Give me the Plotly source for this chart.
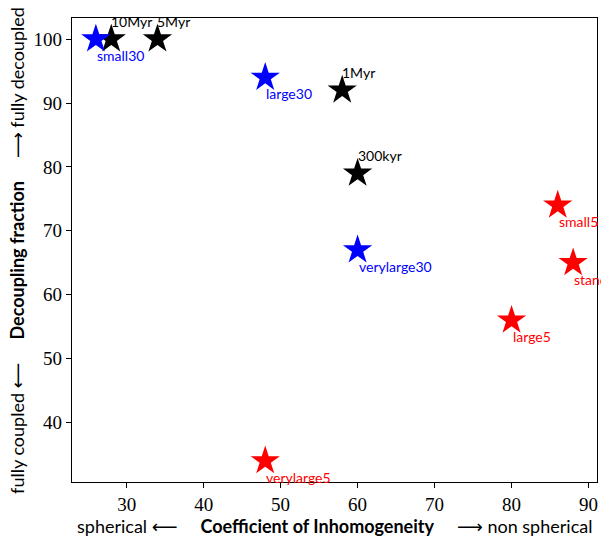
import plotly.graph_objects as go

# Black: time snapshots
time_labels = ["10Myr", "5Myr", "1Myr", "300kyr"]
time_x = [28, 34, 58, 60]
time_y = [100, 100, 92, 79]

# Blue: 30 series
blue_labels = ["small30", "large30", "verylarge30"]
blue_x = [26, 48, 60]
blue_y = [100, 94, 67]

# Red: 5 series
red_labels = ["small5", "standard", "large5", "verylarge5"]
red_x = [86, 88, 80, 48]
red_y = [74, 65, 56, 34]

x_ticks = [30, 40, 50, 60, 70, 80, 90]
y_ticks = [40, 50, 60, 70, 80, 90, 100]

label_font = dict(family="Lato, DejaVu Sans, sans-serif", size=14)
tick_font = dict(family="Liberation Serif, serif", size=19, color="black")
title_font = dict(family="Lato, DejaVu Sans, sans-serif", size=18, color="black")

fig = go.Figure()
for xs, ys, col in [(time_x, time_y, "black"), (blue_x, blue_y, "blue"), (red_x, red_y, "red")]:
    fig.add_trace(go.Scatter(x=xs, y=ys, mode="markers",
                             marker=dict(symbol="star", size=22, color=col, line=dict(width=0)),
                             showlegend=False, cliponaxis=False))

annotations = []
for lab, xv, yv in zip(time_labels, time_x, time_y):
    annotations.append(dict(x=xv, y=yv, xref="x", yref="y", text=lab, showarrow=False,
                            xanchor="left", yanchor="bottom", xshift=-2, yshift=7,
                            font=dict(label_font, color="black")))
for labs, xs, ys, col in [(blue_labels, blue_x, blue_y, "blue"), (red_labels, red_x, red_y, "red")]:
    for lab, xv, yv in zip(labs, xs, ys):
        annotations.append(dict(x=xv, y=yv, xref="x", yref="y", text=lab, showarrow=False,
                                xanchor="left", yanchor="top", xshift=-1, yshift=-6,
                                font=dict(label_font, color=col)))

annotations.append(dict(x=0.5, y=-0.069, xref="paper", yref="paper", showarrow=False,
                        xanchor="center", yanchor="top", borderpad=0,
                        text="spherical ⟵     <b>Coefficient of Inhomogeneity</b>     ⟶ non spherical",
                        font=title_font))
annotations.append(dict(x=-0.105, y=0.5, xref="paper", yref="paper", showarrow=False,
                        xanchor="center", yanchor="middle", textangle=-90,
                        text="fully coupled ⟵     <b>Decoupling fraction</b>     ⟶ fully decoupled",
                        font=title_font))

fig.update_layout(
    width=601, height=541,
    margin=dict(l=72, r=4, t=18, b=59),
    plot_bgcolor="white", paper_bgcolor="white",
    annotations=annotations,
)
fig.update_xaxes(range=[22.9, 91.1], tickvals=x_ticks, ticks="outside", ticklen=5, tickwidth=1,
                 tickcolor="black", showgrid=False, zeroline=False, showline=True, linecolor="black",
                 linewidth=1.2, mirror=True, tickfont=tick_font)
fig.update_yaxes(range=[30.7, 103.3], tickvals=y_ticks, ticks="outside", ticklen=5, tickwidth=1,
                 tickcolor="black", showgrid=False, zeroline=False, showline=True, linecolor="black",
                 linewidth=1.2, mirror=True, tickfont=tick_font)

fig.write_html("out.html")
